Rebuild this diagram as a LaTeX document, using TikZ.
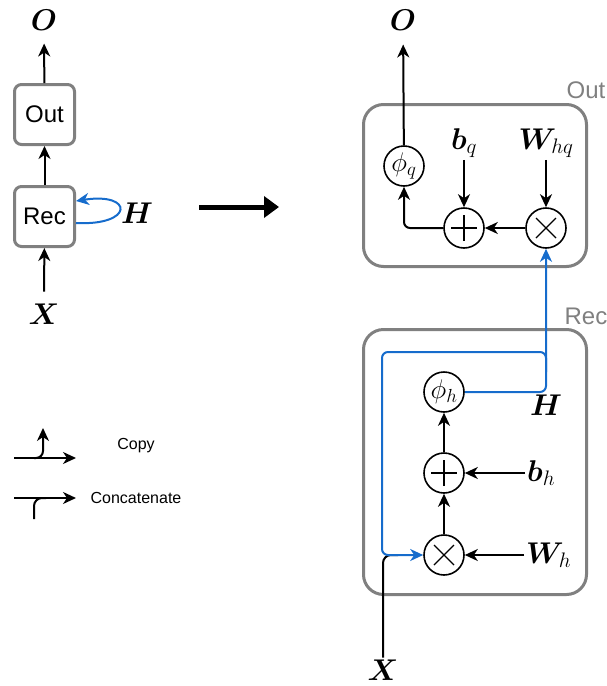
\RequirePackage{fix-cm}
\documentclass[tikz,border=0pt]{standalone}
\usepackage{amsmath}
\usepackage{fontspec}
\usepackage{bm}
\setmainfont{Liberation Sans}
\usetikzlibrary{positioning,arrows.meta}
\definecolor{boxgray}{RGB}{128,128,128}
\definecolor{copyblue}{RGB}{22,108,204}

\begin{document}
\begin{tikzpicture}[x=1pt,y=-1pt,
  box/.style={draw=boxgray,line width=3pt,rounded corners=7pt,minimum size=60pt,inner sep=0pt,font=\fontsize{24}{26}\selectfont},
  cell/.style={draw=boxgray,line width=3pt,rounded corners=20pt,minimum width=223pt},
  op/.style={circle,draw,line width=1.6pt,minimum size=40pt,inner sep=0pt,font=\fontsize{27}{29}\selectfont},
  addop/.style={path picture={\draw[line width=1.1pt] ([xshift=-13pt]path picture bounding box.center) -- ([xshift=13pt]path picture bounding box.center) ([yshift=-13pt]path picture bounding box.center) -- ([yshift=13pt]path picture bounding box.center);}},
  mulop/.style={path picture={\draw[line width=1.1pt] ([xshift=-10pt,yshift=-10pt]path picture bounding box.center) -- ([xshift=10pt,yshift=10pt]path picture bounding box.center) ([xshift=-10pt,yshift=10pt]path picture bounding box.center) -- ([xshift=10pt,yshift=-10pt]path picture bounding box.center);}},
  lbl/.style={font=\fontsize{30}{32}\selectfont,inner sep=2pt},
  tag/.style={text=boxgray,font=\fontsize{24}{26}\selectfont},
  keytext/.style={font=\fontsize{16}{18}\selectfont},
  wire/.style={line width=2pt},
  arr/.style={wire,-{Stealth[length=13pt,width=12pt,inset=4pt]}},
  hflow/.style={arr,draw=copyblue,rounded corners=6pt}]
\useasboundingbox (0,0) rectangle (606,686);

% folded network
\node[box] (out) at (44.5,114.5) {Out};
\node[box] (rec) at (44.5,216.5) {Rec};
\node[lbl] (o1) at (44,20) {$\bm{O}$};
\node[lbl] (h1) at (137,213) {$\bm{H}$};
\node[lbl] (x1) at (44,314) {$\bm{X}$};
\draw[arr] (rec) -- (out); \draw[arr,shorten >=11pt] (out) -- (o1); \draw[arr,shorten <=10pt] (x1) -- (rec);
\draw[arr,draw=copyblue] ([yshift=-6.5pt]rec.east) .. controls (134,226) and (134,192) .. ([yshift=15.5pt]rec.east);

\coordinate (a0) at (199,207); \coordinate (a1) at (279,207);
\draw[line width=5pt,-{Triangle[length=15pt,width=21pt]}] (a0) -- (a1);

% unrolled: output cell
\node[cell,minimum height=162pt] (outcell) at (475,185.5) {};
\node[tag] (outtag) at (586,90) {Out};
\node[op] (phiq) at (404,166) {$\phi_q$};
\node[op,addop] (addq) at (464,228) {};
\node[op,mulop] (mulq) at (546,228) {};
\node[lbl] (bq) at (464,143) {$\bm{b}_q$};
\node[lbl] (whq) at (546,143) {$\bm{W}_{hq}$};
\node[lbl] (o2) at (403,20) {$\bm{O}$};
\draw[arr] (bq) -- (addq); \draw[arr] (whq) -- (mulq); \draw[arr] (mulq) -- (addq);
\draw[arr,rounded corners=6pt] (addq) -| (phiq); \draw[arr,shorten >=12pt] (phiq) -- (o2);

% unrolled: recurrent cell
\node[cell,minimum height=265pt] (reccell) at (475,462) {};
\node[tag] (rectag) at (586,316) {Rec};
\node[op] (phih) at (444,392) {$\phi_h$};
\node[op,addop] (addh) at (444,473) {};
\node[op,mulop] (mulh) at (444,555) {};
\node[lbl,anchor=west] (bh) at (525,473) {$\bm{b}_h$};
\node[lbl,anchor=west] (wh) at (524,555) {$\bm{W}_h$};
\node[lbl] (h2) at (546,405) {$\bm{H}$};
\node[lbl] (x2) at (383,670) {$\bm{X}$};
\draw[arr] (bh.west) -- (addh); \draw[arr] (wh.west) -- (mulh); \draw[arr] (mulh) -- (addh); \draw[arr] (addh) -- (phih);

\coordinate (xj) at (398,555);
\draw[wire,rounded corners=8pt] (x2) |- (xj);
\coordinate (hc) at (546,352); \coordinate (xc) at (382,555);
\draw[hflow] (phih) -| (mulq);
\draw[hflow] ([yshift=-20pt]hc) -- (hc) -| (xc) -- (mulh);

% legend
\coordinate (c0) at (14,458); \coordinate (c1) at (76,458); \coordinate (c2) at (43,428); \coordinate (c3) at (34,458);
\draw[arr] (c0) -- (c1); \draw[arr,rounded corners=7pt] (c3) -| (c2);
\node[keytext] (copy) at (136,446) {Copy};
\coordinate (k0) at (14,498); \coordinate (k1) at (76,498); \coordinate (k2) at (34,519); \coordinate (k3) at (46,498);
\draw[arr] (k0) -- (k1); \draw[wire,rounded corners=8pt] (k2) |- (k3);
\node[keytext] (concat) at (136,498) {Concatenate};
\end{tikzpicture}
\end{document}
